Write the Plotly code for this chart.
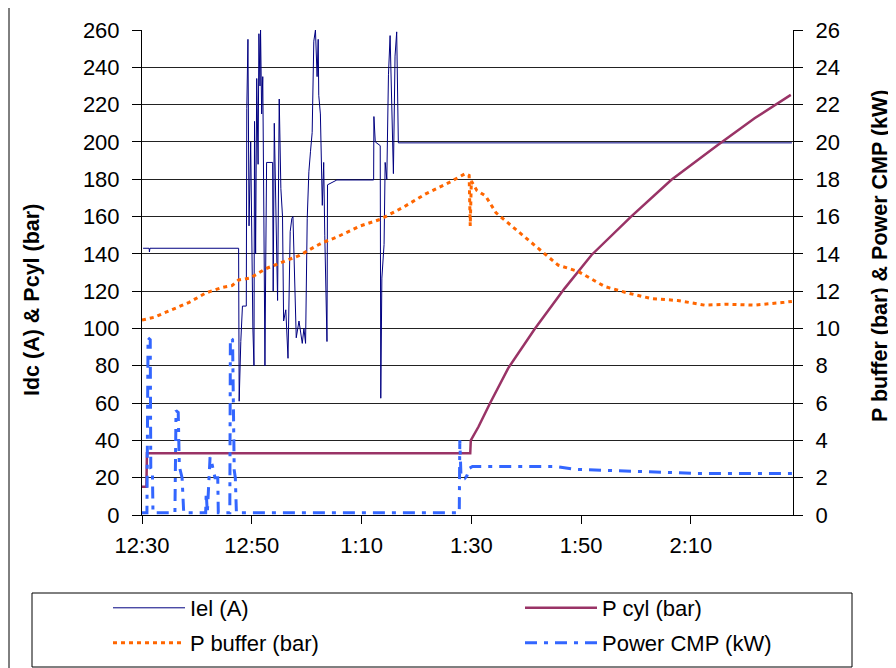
import plotly.graph_objects as go

# ---- data (time in minutes after 12:30) ----
x_tickvals = [0, 20, 40, 60, 80, 100]
x_ticktext = ["12:30", "12:50", "1:10", "1:30", "1:50", "2:10"]

iel_t = [0.2, 1.3, 1.35, 1.45, 17.6, 17.7, 18.0, 18.3, 19.0, 19.09, 19.3, 19.5, 19.8, 20.0,
         20.2, 20.4, 20.5, 20.7, 20.9, 21.15, 21.3, 21.5, 21.6, 21.8, 22.0, 22.2, 22.4, 22.5,
         22.7, 23.8, 23.9, 24.1, 24.7, 25.0, 25.3, 25.6, 25.8, 26.2, 26.6, 27.0, 27.3, 27.5,
         27.7, 28.1, 28.6, 28.9, 29.2, 29.5, 29.8, 30.1, 30.4, 30.7, 31.0, 31.3, 31.6, 31.9,
         32.1, 32.2, 32.5, 32.85, 33.1, 33.3, 33.5, 33.7, 33.8, 35.5, 42.2, 42.25, 42.5, 43.4,
         43.5, 43.7, 44.1, 44.3, 44.6, 44.9, 45.2, 45.5, 45.8, 46.1, 46.4, 46.7, 118.4]
iel_v = [143, 143, 141, 143, 143, 61, 93, 112, 112, 218, 255, 155, 200, 134,
         100, 80, 211, 140, 234, 188, 258, 230, 260, 215, 235, 160, 80, 120,
         189, 189, 120, 210, 115, 223, 175, 160, 104, 110, 84, 152, 159, 160,
         134, 95, 104, 98, 92, 100, 92, 159, 184, 195, 205, 254, 260, 235,
         255, 225, 215, 166, 189, 150, 120, 93, 177, 179.6, 179.6, 213.6, 200, 198,
         62.6, 127, 145, 189, 180, 236, 257, 223, 183, 246, 259, 199.5, 199.5]

pcyl_t = [0.0, 0.8, 0.9, 59.8, 59.9, 61.3, 63.4, 66.7, 71.6, 77.0, 81.9, 89.1, 96.4,
          104.9, 111.6, 118.2]
pcyl_v = [15.2, 15.2, 33.1, 33.1, 40, 47.3, 59.9, 78.6, 100, 121.5, 139.4, 160, 179.6,
          198.4, 212.7, 225.2]

pbuf_t = [0.0, 2.2, 3.8, 8.6, 11.6, 14.6, 16.4, 17.6, 19.7, 22.5, 25.9, 28.6, 31.6, 32.9,
          35.5, 39.8, 43.4, 47.6, 51.6, 55.8, 58.9, 59.6, 59.8, 60.0, 61.0, 62.6, 64.5, 67.3,
          70.4, 73.4, 75.8, 79.5, 84.3, 88.5, 92.8, 97.6, 102.5, 106.7, 111.6, 117.0, 118.4]
pbuf_v = [10.45, 10.6, 10.8, 11.4, 11.9, 12.2, 12.3, 12.6, 12.7, 13.2, 13.6, 13.9, 14.4, 14.6,
          14.9, 15.5, 15.85, 16.5, 17.2, 17.8, 18.3, 18.2, 15.5, 17.9, 17.4, 17.1, 16.2, 15.5,
          14.75, 14.0, 13.4, 13.05, 12.25, 11.9, 11.6, 11.5, 11.25, 11.3, 11.25, 11.4, 11.45]

pcmp_t = [0.0, 0.9, 1.1, 1.5, 1.6, 1.9, 2.0, 6.0, 6.2, 6.6, 6.8, 7.3, 7.6, 11.6, 11.7, 11.9,
          12.4, 12.7, 13.3, 13.8, 13.9, 16.0, 16.1, 16.5, 16.8, 17.0, 17.2, 57.8, 57.9, 58.1,
          58.6, 58.9, 59.2, 59.6, 60.2, 75.2, 78.9, 84.5, 88.2, 97.0, 101.0, 118.4]
pcmp_v = [0.12, 0.12, 9.5, 9.4, 2.5, 2.3, 0.12, 0.12, 5.6, 5.5, 2.6, 2.0, 0.12, 0.12, 1.2, 0.12,
          3.1, 2.8, 2.0, 2.0, 0.12, 0.12, 9.5, 9.4, 2.4, 2.0, 0.12, 0.12, 4.0, 2.2,
          2.2, 2.0, 2.1, 2.5, 2.6, 2.6, 2.45, 2.4, 2.35, 2.3, 2.23, 2.23]

FONT = "Liberation Sans, Arial, sans-serif"

fig = go.Figure()
fig.add_trace(go.Scatter(x=iel_t, y=iel_v, name="Iel (A)", mode="lines",
                         line=dict(color="#000080", width=1), legend="legend"))
fig.add_trace(go.Scatter(x=pbuf_t, y=pbuf_v, name="P buffer (bar)", mode="lines", yaxis="y2",
                         line=dict(color="#FF6600", width=3, dash="4px,4px"), legend="legend3"))
fig.add_trace(go.Scatter(x=pcyl_t, y=pcyl_v, name="P cyl (bar)", mode="lines",
                         line=dict(color="#993366", width=2.5), legend="legend2"))
fig.add_trace(go.Scatter(x=pcmp_t, y=pcmp_v, name="Power CMP (kW)", mode="lines", yaxis="y2",
                         line=dict(color="#3366FF", width=3, dash="12px,7px,4px,7px"),
                         legend="legend4"))

# page body has an 8px margin: figure is drawn 8px lower/right than the window origin
OFF = 8
W, H = 896 - OFF, 668 - OFF
L, R, T, B = 142 - OFF, 103, 30 - OFF, 153
pw, ph = W - L - R, H - T - B


def px(xp):
    # xp in screen (reference) pixels
    return (xp - OFF - L) / pw


def py(yp):
    return (H - B - (yp - OFF)) / ph


tickfont = dict(family=FONT, size=22, color="black")
legfont = dict(family=FONT, size=22, color="black")


def leg(xs, ys):
    return dict(x=px(xs), y=py(ys), xanchor="left", yanchor="top", orientation="v",
                itemwidth=72, font=legfont, bgcolor="rgba(0,0,0,0)")


fig.update_layout(
    width=W, height=H, autosize=False,
    margin=dict(l=L, r=R, t=T, b=B, autoexpand=False),
    paper_bgcolor="white", plot_bgcolor="white",
    xaxis=dict(range=[0, 118.6], tickvals=x_tickvals, ticktext=x_ticktext,
               showgrid=False, zeroline=False, showline=True, linecolor="black", linewidth=1,
               ticks="outside", ticklen=8, tickcolor="black", tickfont=tickfont,
               ticklabelstandoff=3, automargin=False),
    yaxis=dict(range=[0, 260], dtick=20, showgrid=True, gridcolor="#222", gridwidth=1,
               zeroline=False, showline=True, linecolor="black", linewidth=1,
               ticks="outside", ticklen=9, tickcolor="black", tickfont=tickfont,
               ticklabelstandoff=8, automargin=False),
    yaxis2=dict(range=[0, 26], dtick=2, overlaying="y", side="right", showgrid=False,
                zeroline=False, showline=True, linecolor="black", linewidth=1,
                ticks="outside", ticklen=9, tickcolor="black", tickfont=tickfont,
                ticklabelstandoff=8, automargin=False),
    legend=leg(108, 587),
    legend2=leg(520, 587),
    legend3=leg(108, 622),
    legend4=leg(520, 622),
    shapes=[
        dict(type="rect", xref="paper", yref="paper", x0=px(32), x1=px(852), y0=py(593),
             y1=py(667), line=dict(color="black", width=1), fillcolor="rgba(0,0,0,0)"),
        dict(type="rect", xref="paper", yref="paper", x0=px(9), x1=px(905), y0=py(6),
             y1=py(675), line=dict(color="black", width=1), fillcolor="rgba(0,0,0,0)"),
    ],
    annotations=[
        dict(text="<b>Idc (A) &amp; Pcyl (bar)</b>", xref="paper", yref="paper",
             x=px(32), y=py(300), textangle=-90, showarrow=False,
             font=dict(family=FONT, size=21.5, color="black"), xanchor="center",
             yanchor="middle"),
        dict(text="<b>P buffer (bar) &amp; Power CMP (kW)</b>", xref="paper", yref="paper",
             x=px(880), y=py(256), textangle=-90, showarrow=False,
             font=dict(family=FONT, size=21.5, color="black"), xanchor="center",
             yanchor="middle"),
    ],
    showlegend=True,
)

fig.write_html("out.html")
